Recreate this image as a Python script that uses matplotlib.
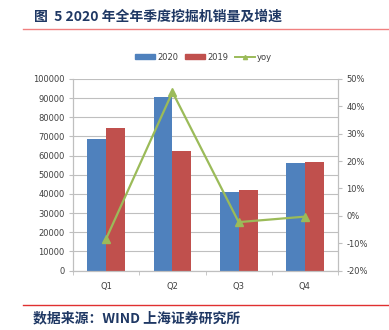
import matplotlib

matplotlib.use("Agg")
import matplotlib.pyplot as plt
from matplotlib.lines import Line2D
from matplotlib.patches import Patch
from matplotlib.ticker import FuncFormatter

quarters = ["Q1", "Q2", "Q3", "Q4"]
sales_2020 = [68500, 90400, 41000, 56300]
sales_2019 = [74600, 62300, 41900, 56700]
yoy = [-8.3, 45.2, -2.3, -0.3]

BLUE = "#4f81bd"
RED = "#c0504d"
GREEN = "#9bbb59"
NAVY = "#1f3864"
GRID = "#bfbfbf"
TICK_TEXT = "#404040"
CJK = ["Noto Sans CJK SC", "DejaVu Sans"]

fig = plt.figure(figsize=(3.89, 3.30), dpi=100)
ax = fig.add_axes([0.188, 0.18, 0.681, 0.581])
ax2 = ax.twinx()

x = list(range(len(quarters)))
width = 0.285
ax.bar([i - width / 2 for i in x], sales_2020, width, color=BLUE, zorder=2)
ax.bar([i + width / 2 for i in x], sales_2019, width, color=RED, zorder=2)

ax.set_xlim(-0.5, 3.5)
ax.set_ylim(0, 100000)
ax.set_yticks(range(0, 100001, 10000))
ax.grid(True, axis="y", color=GRID, linewidth=0.8)
ax.set_axisbelow(True)
ax.set_xticks(x)
ax.set_xticklabels(quarters)
ax.set_xticks([-0.5, 0.5, 1.5, 2.5, 3.5], minor=True)
ax.tick_params(axis="x", which="major", length=0, pad=8, labelsize=6, labelcolor=TICK_TEXT)
ax.tick_params(axis="x", which="minor", length=3, color=GRID)
ax.tick_params(axis="y", length=3, color=GRID, labelsize=6, labelcolor=TICK_TEXT, pad=3)

ax2.plot(x, yoy, color=GREEN, linewidth=1.6, marker="^", markersize=6, zorder=3)
ax2.set_ylim(-20, 50)
ax2.set_yticks(range(-20, 51, 10))
ax2.yaxis.set_major_formatter(FuncFormatter(lambda v, _: f"{int(v)}%"))
ax2.tick_params(axis="y", length=3, color=GRID, labelsize=6, labelcolor=TICK_TEXT, pad=3)

for a in (ax, ax2):
    for side in ("left", "right", "bottom"):
        a.spines[side].set_color(GRID)
    a.spines["top"].set_visible(False)

handles = [
    Patch(color=BLUE, label="2020"),
    Patch(color=RED, label="2019"),
    Line2D([0], [0], color=GREEN, marker="^", markersize=3, linewidth=1.4, label="yoy"),
]
fig.legend(
    handles=handles,
    loc="center",
    bbox_to_anchor=(0.523, 0.827),
    ncol=3,
    frameon=False,
    fontsize=6,
    handlelength=2.4,
    handleheight=0.55,
    handletextpad=0.25,
    columnspacing=0.8,
    labelcolor=TICK_TEXT,
)

fig.text(0.088, 0.948, "图  5 2020 年全年季度挖掘机销量及增速", family=CJK,
         fontsize=10, fontweight="bold", color=NAVY, va="center")
fig.add_artist(Line2D([0.06, 1.0], [0.911, 0.911], color="#f08080", linewidth=1.0))
fig.add_artist(Line2D([0.06, 1.0], [0.076, 0.076], color="#e03030", linewidth=1.0))
fig.text(0.085, 0.035, "数据来源：WIND 上海证券研究所", family=CJK,
         fontsize=10, fontweight="bold", style="italic", color=NAVY, va="center")

fig.savefig("out.png", dpi=100)
plt.close(fig)
